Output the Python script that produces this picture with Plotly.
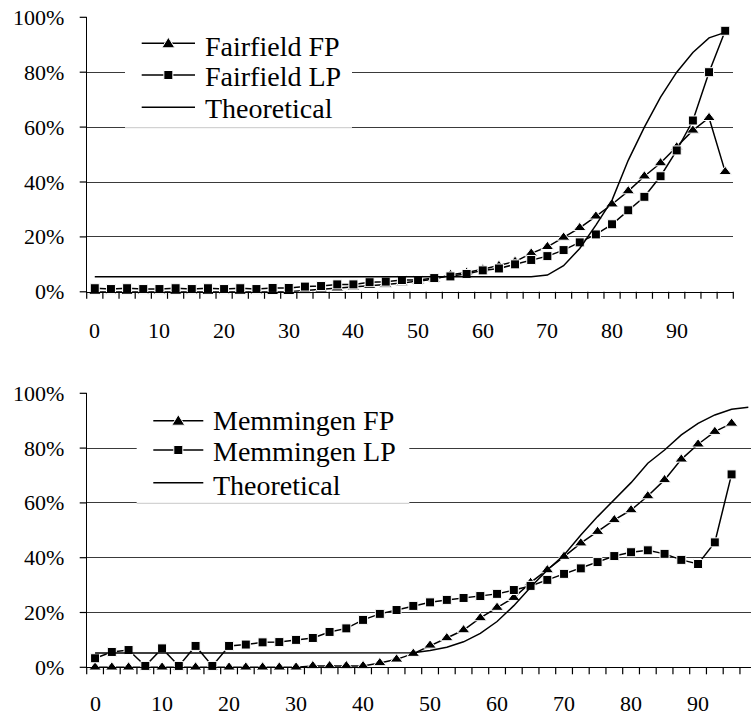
import plotly.graph_objects as go

W, H = 751, 717
FONT = "Liberation Serif, Times New Roman, serif"

# Category axis: class midpoints, one tick mark per class boundary
x_cat = [0, 2.5, 5, 7.5, 10, 12.5, 15, 17.5, 20, 22.5,
         25, 27.5, 30, 32.5, 35, 37.5, 40, 42.5, 45, 47.5,
         50, 52.5, 55, 57.5, 60, 62.5, 65, 67.5, 70, 72.5,
         75, 77.5, 80, 82.5, 85, 87.5, 90, 92.5, 95, 97.5]
x_labels = ["0", "10", "20", "30", "40", "50", "60", "70", "80", "90"]
x_label_vals = [0, 10, 20, 30, 40, 50, 60, 70, 80, 90]
y_tick_vals = [0, 0.2, 0.4, 0.6, 0.8, 1.0]

# Fairfield (percent)
fairfield_fp = [0, 0, 0, 0, 0, 0, 0, 0, 0, 0,
                0, 0, 0, 0.5, 0.9, 1.3, 1.7, 2.2, 2.7, 3.2,
                3.8, 4.6, 6.2, 7.0, 8.2, 9.5, 11.0, 14.0, 16.4, 19.8,
                23.3, 27.5, 31.9, 36.7, 42.1, 46.9, 52.7, 58.8, 63.4, 43.7]
fairfield_lp = [1.3, 1.0, 1.3, 1.0, 1.0, 1.3, 1.0, 1.3, 1.0, 1.3,
                1.0, 1.4, 1.4, 1.9, 2.1, 2.7, 2.7, 3.5, 3.7, 4.3,
                4.3, 5.0, 5.6, 6.5, 7.8, 8.5, 10.0, 11.6, 13.0, 15.2,
                18.0, 20.9, 24.6, 29.7, 34.6, 42.1, 51.5, 62.4, 80.0, 95.1]
fairfield_theory = [5.5, 5.5, 5.5, 5.5, 5.5, 5.5, 5.5, 5.5, 5.5, 5.5,
                    5.5, 5.5, 5.5, 5.5, 5.5, 5.5, 5.5, 5.5, 5.5, 5.5,
                    5.5, 5.5, 5.5, 5.5, 5.5, 5.5, 5.5, 5.5, 6.1, 9.5,
                    15.8, 24.3, 33.4, 47.9, 60.0, 70.9, 80.0, 87.2, 92.5, 94.5]

# Memmingen (percent)
memmingen_fp = [0, 0, 0, 0, 0, 0, 0, 0, 0, 0,
                0, 0, 0, 0.5, 0.5, 0.5, 0.5, 1.6, 2.9, 5.0,
                8.0, 10.7, 13.6, 18.0, 21.8, 25.4, 30.9, 35.5, 40.4, 45.3,
                49.5, 53.8, 57.4, 62.5, 68.4, 75.9, 81.4, 86.0, 89.0]
memmingen_lp = [3.3, 5.6, 6.3, 0.5, 6.9, 0.5, 7.8, 0.5, 7.8, 8.3,
                9.1, 9.2, 10.0, 10.7, 12.9, 14.2, 17.3, 19.5, 20.9, 22.4,
                23.7, 24.6, 25.3, 26.0, 26.8, 28.2, 29.7, 31.9, 34.1, 36.1,
                38.4, 40.6, 42.0, 42.7, 41.4, 39.2, 37.7, 45.6, 70.4]
memmingen_theory = [5.2, 5.2, 5.2, 5.2, 5.2, 5.2, 5.2, 5.2, 5.2, 5.2,
                    5.2, 5.2, 5.2, 5.2, 5.2, 5.2, 5.2, 5.2, 5.2, 5.3,
                    6.1, 7.3, 9.3, 12.4, 16.7, 22.5, 29.2, 35.5, 41.0, 48.3,
                    55.0, 61.3, 67.4, 74.5, 79.3, 84.8, 89.0, 92.1, 94.2, 94.9]

fp_names = ["Fairfield FP", "Memmingen FP"]
lp_names = ["Fairfield LP", "Memmingen LP"]
theory_name = "Theoretical"


def frac(v):
    return [p / 100 for p in v]


def px(x):
    return x / W


def py(y):
    return 1 - y / H


LINE_W = 1.5
TICK_W = 1.2
tri = dict(symbol="triangle-up", size=11, color="black",
           line=dict(color="white", width=1))
sq = dict(symbol="square", size=9, color="black",
          line=dict(color="white", width=1))

fig = go.Figure()

panels = [
    ("x", "y", fairfield_fp, fairfield_lp, fairfield_theory, 0),
    ("x2", "y2", memmingen_fp, memmingen_lp, memmingen_theory, 1),
]
for xa, ya, fp, lp, th, k in panels:
    fig.add_trace(go.Scatter(
        x=x_cat[:len(fp)], y=frac(fp), mode="lines+markers", name=fp_names[k],
        line=dict(color="black", width=LINE_W), marker=tri,
        cliponaxis=False, xaxis=xa, yaxis=ya, showlegend=False))
    fig.add_trace(go.Scatter(
        x=x_cat[:len(lp)], y=frac(lp), mode="lines+markers", name=lp_names[k],
        line=dict(color="black", width=LINE_W), marker=sq,
        cliponaxis=False, xaxis=xa, yaxis=ya, showlegend=False))
    fig.add_trace(go.Scatter(
        x=x_cat[:len(th)], y=frac(th), mode="lines", name=theory_name,
        line=dict(color="black", width=LINE_W),
        xaxis=xa, yaxis=ya, showlegend=False))

tick_font = dict(family=FONT, size=22, color="black")
# tick marks sit on the class boundaries, halfway between category centres
boundaries = [-1.25 + 2.5 * i for i in range(41)]


def xaxis_style(domain, rng, anchor):
    return dict(
        domain=domain, range=rng, anchor=anchor, automargin=False,
        showticklabels=False, ticks="",
        showline=True, linecolor="black", linewidth=1,
        showgrid=False, zeroline=False,
    )


def yaxis_style(domain, anchor):
    return dict(
        domain=domain, range=[0, 1], anchor=anchor, automargin=False,
        tickmode="array", tickvals=y_tick_vals,
        showticklabels=False, ticks="",
        showline=True, linecolor="black", linewidth=1,
        showgrid=True, gridcolor="#3a3a3a", gridwidth=1,
        zeroline=False,
    )


AXIS_X = 86.7                     # pixel column of both y axes
panels_px = [
    # (x axis, y axis, y of 0%, y of 100%, right edge, range, label row y)
    ("x", "y", 291.8, 17.3, 733.3, [-1.25, 98.75], 330.0),
    ("x2", "y2", 667.3, 393.3, 751.0, [-1.25, 97.9], 703.0),
]

layout_axes = {}
shapes = []
annotations = []
tick_x, tick_y = [], []           # tick-mark segments in page pixels

for i, (xa, ya, y0, y100, right, rng, label_y) in enumerate(panels_px):
    suffix = "" if i == 0 else str(i + 1)
    layout_axes["xaxis" + suffix] = xaxis_style([px(AXIS_X), px(right)], rng, ya)
    layout_axes["yaxis" + suffix] = yaxis_style([py(y0), py(y100)], xa)

    def x_pix(v, rng=rng, right=right):
        return AXIS_X + (v - rng[0]) / (rng[1] - rng[0]) * (right - AXIS_X)

    def y_pix(v, y0=y0, y100=y100):
        return y0 + (y100 - y0) * v

    # x tick marks on class boundaries, hanging below the axis
    for b in boundaries:
        if rng[0] <= b <= rng[1]:
            xb = x_pix(b)
            tick_x += [xb, xb, None]
            tick_y += [y0, y0 + 7, None]

    # x category labels
    for v, t in zip(x_label_vals, x_labels):
        annotations.append(dict(xref=xa, yref="paper", x=v, y=py(label_y),
                                xanchor="center", yanchor="middle",
                                showarrow=False, text=t, font=tick_font))

    # y tick marks and percentage labels
    for v in y_tick_vals:
        yv = y_pix(v)
        tick_x += [AXIS_X - 7, AXIS_X, None]
        tick_y += [yv, yv, None]
        annotations.append(dict(xref="paper", yref="paper", x=px(66), y=py(yv),
                                xanchor="right", yanchor="middle",
                                showarrow=False, text=f"{round(v * 100)}%",
                                font=tick_font))

# Tick marks live on a transparent full-page pixel overlay so nothing clips them
fig.add_trace(go.Scatter(
    x=tick_x, y=tick_y, mode="lines", xaxis="x3", yaxis="y3",
    line=dict(color="black", width=TICK_W), hoverinfo="skip", showlegend=False))
layout_axes["xaxis3"] = dict(domain=[0, 1], range=[0, W], anchor="y3",
                             visible=False, automargin=False, fixedrange=True)
layout_axes["yaxis3"] = dict(domain=[0, 1], range=[H, 0], anchor="x3",
                             visible=False, automargin=False, fixedrange=True)

fig.update_layout(
    width=W, height=H,
    margin=dict(l=0, r=0, t=0, b=0, autoexpand=False),
    paper_bgcolor="white", plot_bgcolor="rgba(0,0,0,0)",
    font=dict(family=FONT, color="black"),
    **layout_axes,
)


# Legend boxes, drawn by hand so the line samples are long
def legend(box, grid_y, rows, line_x, text_x):
    x0, y0, x1, y1 = box
    shapes.append(dict(type="rect", xref="paper", yref="paper",
                       x0=px(x0), x1=px(x1), y0=py(y0), y1=py(y1),
                       fillcolor="white", line=dict(width=0), layer="above"))
    shapes.append(dict(type="line", xref="paper", yref="paper",
                       x0=px(x0), x1=px(x1), y0=py(grid_y), y1=py(grid_y),
                       line=dict(color="#c8c8c8", width=1), layer="above"))
    lx0, lx1 = line_x
    cx = (lx0 + lx1) / 2
    for label, marker, ly, ty in rows:
        shapes.append(dict(type="line", xref="paper", yref="paper",
                           x0=px(lx0), x1=px(lx1), y0=py(ly), y1=py(ly),
                           line=dict(color="black", width=LINE_W), layer="above"))
        if marker == "tri":
            path = (f"M{px(cx - 6.5)},{py(ly + 4.5)} L{px(cx + 6.5)},{py(ly + 4.5)} "
                    f"L{px(cx)},{py(ly - 6)} Z")
            shapes.append(dict(type="path", xref="paper", yref="paper", path=path,
                               fillcolor="black", line=dict(color="white", width=1),
                               layer="above"))
        elif marker == "sq":
            shapes.append(dict(type="rect", xref="paper", yref="paper",
                               x0=px(cx - 4.5), x1=px(cx + 4.5),
                               y0=py(ly + 4.5), y1=py(ly - 4.5),
                               fillcolor="black", line=dict(color="white", width=1),
                               layer="above"))
        annotations.append(dict(xref="paper", yref="paper", x=px(text_x), y=py(ty),
                                xanchor="left", yanchor="middle", showarrow=False,
                                text=label,
                                font=dict(family=FONT, size=28, color="black")))


legend((125, 25, 352, 128.6), 127.7,
       [(fp_names[0], "tri", 43.3, 46.5),
        (lp_names[0], "sq", 75.0, 76.5),
        (theory_name, None, 107.3, 108.8)],
       (141.7, 195.0), 203)

legend((136.7, 400, 409.3, 504.2), 503.3,
       [(fp_names[1], "tri", 420.7, 420.5),
        (lp_names[1], "sq", 450.0, 451.2),
        (theory_name, None, 482.7, 485.5)],
       (153.3, 203.3), 210.7)

fig.update_layout(shapes=shapes, annotations=annotations)

fig.write_html("out.html")
